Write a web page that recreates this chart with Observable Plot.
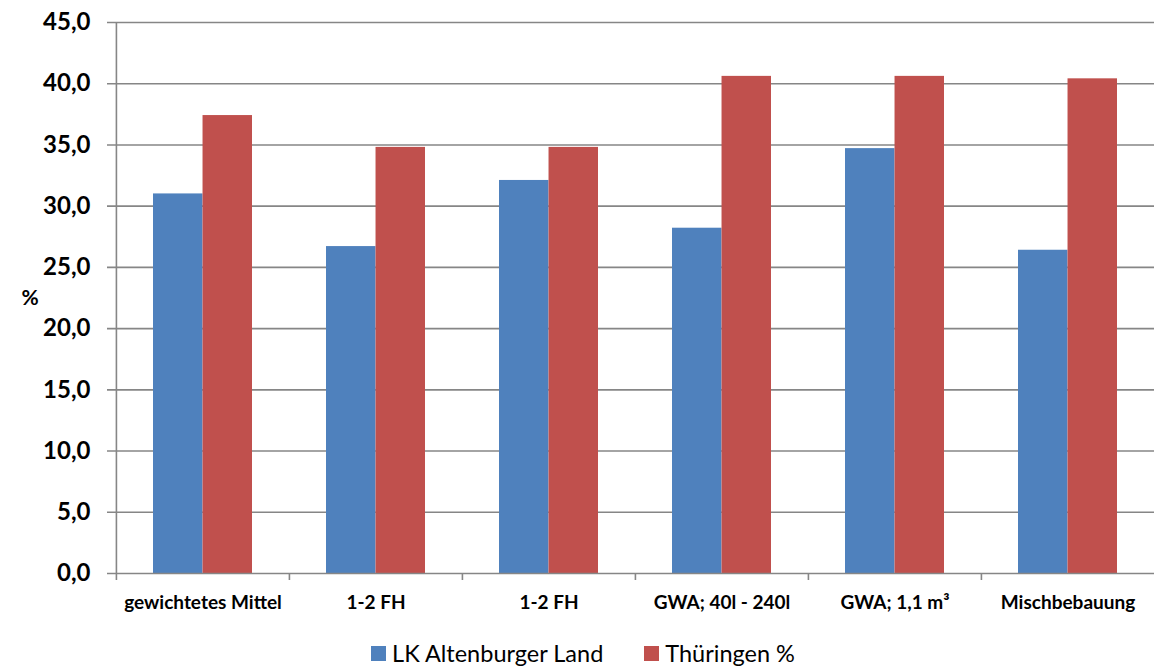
<!DOCTYPE html>
<html>
<head>
<meta charset="utf-8">
<script src="https://cdn.jsdelivr.net/npm/d3@7"></script>
<script src="https://cdn.jsdelivr.net/npm/@observablehq/plot@0.6"></script>
<style>
  html, body { margin: 0; padding: 0; background: #fff; }
  #chart svg { display: block; }
  #chart svg text { font-family: Lato, "Open Sans", sans-serif; fill: #000; }
  #legend { display: flex; justify-content: center; align-items: center; gap: 41px; height: 46px;
            font-family: Lato, "Open Sans", sans-serif; font-size: 23.5px; color: #000; padding: 10px 0 0 12px; box-sizing: border-box; }
  #legend .item { display: flex; align-items: center; gap: 6px; }
  #legend .sw { width: 15px; height: 15px; display: inline-block; }
</style>
</head>
<body>
<div id="chart"></div>
<div id="legend"></div>
<script>
// ---- data ----
const categories = ["gewichtetes Mittel", "1-2 FH", "1-2 FH", "GWA; 40l - 240l", "GWA; 1,1 m³", "Mischbebauung"];
const seriesNames = ["LK Altenburger Land", "Thüringen %"];
const lkValues = [31.0, 26.7, 32.1, 28.2, 34.7, 26.4];
const thValues = [37.4, 34.8, 34.8, 40.6, 40.6, 40.4];
const yTicks = [0, 5, 10, 15, 20, 25, 30, 35, 40, 45];

const colors = ["#4F81BD", "#C0504D"];
const keys = categories.map((c, i) => String(i));
const rows = categories.map((c, i) => ({key: keys[i], label: c, lk: lkValues[i], th: thValues[i]}));

// ---- layout ----
const width = 1154, height = 625;
const marginLeft = 115, marginRight = 0, marginTop = 22, marginBottom = 52;
const padInner = 0.428, padOuter = 0.214;
const step = (width - marginLeft - marginRight) / (keys.length - padInner + 2 * padOuter);
const bw = step * (1 - padInner);
const grey = "#868686";
const yFmt = d => d.toFixed(1).replace(".", ",");
const xFmt = k => categories[+k];

const marks = [
  Plot.ruleY(yTicks.filter(d => d > 0), {stroke: grey, strokeWidth: 1.6, insetLeft: -8}),
  Plot.barY(rows, {x: "key", y: "lk", fill: colors[0], insetRight: bw / 2}),
  Plot.barY(rows, {x: "key", y: "th", fill: colors[1], insetLeft: bw / 2}),
  Plot.ruleY([0], {stroke: grey, strokeWidth: 1.6, insetLeft: -8}),
  Plot.ruleX(keys.slice(0, 1), {x: d => d, dx: -step / 2, stroke: grey, strokeWidth: 1.6, insetBottom: -7}),
  Plot.ruleX(keys.slice(1), {x: d => d, y1: 0, y2: 0, dx: -step / 2, stroke: grey, strokeWidth: 1.6, insetBottom: -7}),
  Plot.text(["%"], {frameAnchor: "left", dx: -94, text: d => d, fontSize: 21, fontWeight: "bold", fill: "#000"})
];
const hasAxisMarks = typeof Plot.axisY === "function";
if (hasAxisMarks) {
  marks.push(
    Plot.axisY(yTicks, {tickSize: 0, tickPadding: 25, tickFormat: yFmt, fontSize: 24, fontWeight: "bold", label: null, fill: "#000"}),
    Plot.axisX({tickSize: 0, tickPadding: 22, tickFormat: xFmt, fontSize: 19, fontWeight: "bold", label: null, fill: "#000"})
  );
}

const chart = Plot.plot({
  width, height, marginLeft, marginRight, marginTop, marginBottom,
  style: {fontFamily: "Lato, 'Open Sans', sans-serif", background: "#fff"},
  x: {domain: keys, paddingInner: padInner, paddingOuter: padOuter, tickSize: 0, tickPadding: 22,
      tickFormat: xFmt, label: null, axis: hasAxisMarks ? null : "bottom"},
  y: {domain: [0, 45], ticks: yTicks, tickSize: 0, tickPadding: 25,
      tickFormat: yFmt, label: null, axis: hasAxisMarks ? null : "left"},
  marks
});
document.getElementById("chart").appendChild(chart);

// ---- legend ----
const legend = document.getElementById("legend");
seriesNames.forEach((name, i) => {
  const item = document.createElement("span");
  item.className = "item";
  const sw = document.createElement("span");
  sw.className = "sw";
  sw.style.background = colors[i];
  const t = document.createElement("span");
  t.textContent = name;
  item.appendChild(sw);
  item.appendChild(t);
  legend.appendChild(item);
});
</script>
</body>
</html>
